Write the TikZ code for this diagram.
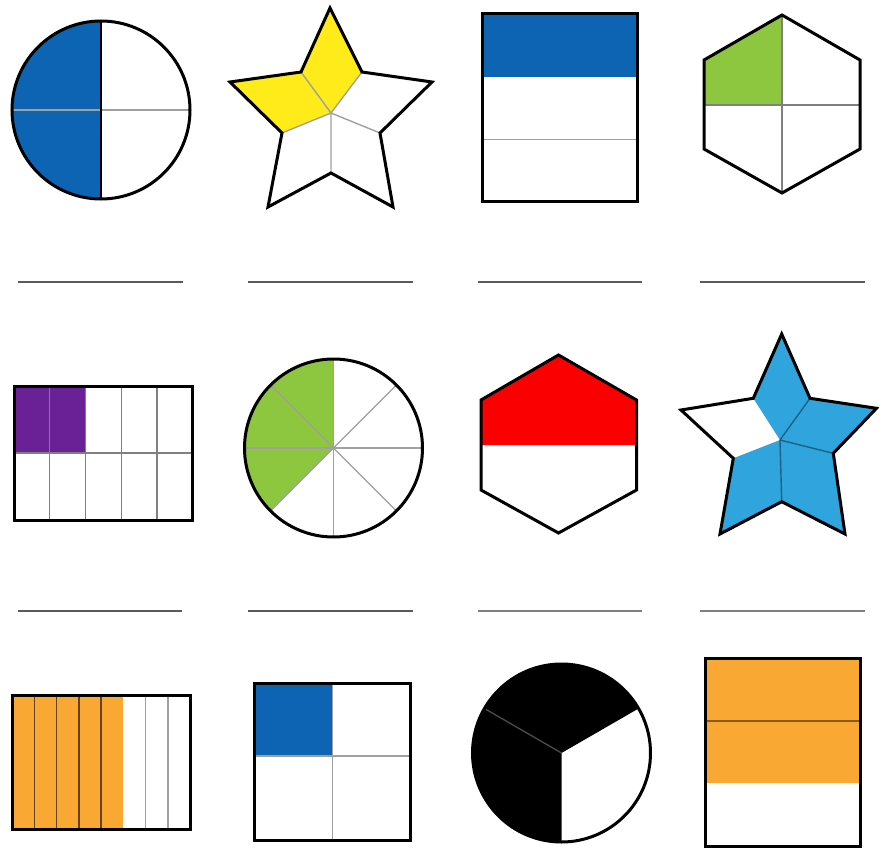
\documentclass[tikz,border=0pt]{standalone}
\begin{document}
\begin{tikzpicture}[x=1pt,y=-1pt,line join=miter]
\definecolor{cblue}{RGB}{12,100,178}
\definecolor{cyellow}{RGB}{255,235,25}
\definecolor{cgreen}{RGB}{141,198,63}
\definecolor{cpurple}{RGB}{107,33,150}
\definecolor{cred}{RGB}{250,0,0}
\definecolor{csky}{RGB}{47,164,221}
\definecolor{corange}{RGB}{249,168,51}
\definecolor{cdiv}{RGB}{160,160,160}
\definecolor{cblank}{RGB}{90,90,90}
\tikzset{
  outline/.style={draw=black,line width=3pt},
  divider/.style={draw=cdiv,line width=1.4pt},
  darkdiv/.style={line width=1.4pt},
  blank/.style={draw=cblank,line width=2.6pt}
}
\useasboundingbox (0,0) rectangle (879,851);
\fill[white] (0,0) rectangle (879,851);

% ===== Row 1 =====
% circle 1/2
\coordinate (c1) at (101,110);
\fill[cblue] (c1) -- ++(0,-89) arc[start angle=-90,end angle=-270,radius=89] -- cycle;
\draw[divider] (c1) ++(-89,0) -- ++(178,0);
\draw[outline] (c1) circle[radius=89];
\draw[black,line width=1.2pt] (c1) ++(0,-89) -- ++(0,178);

% star 2/5
\coordinate (sC) at (331,113);
\coordinate (sT) at (330,8);
\coordinate (sUL) at (301,72);
\coordinate (sUR) at (362,72);
\coordinate (sLT) at (230,82);
\coordinate (sRT) at (432,82);
\coordinate (sLL) at (282,133);
\coordinate (sLR) at (380,133);
\coordinate (sBL) at (268,207);
\coordinate (sBR) at (393,207);
\coordinate (sBI) at (331,173);
\fill[cyellow] (sT) -- (sUR) -- (sC) -- (sLL) -- (sLT) -- (sUL) -- cycle;
\draw[divider] (sC) -- (sUL) (sC) -- (sUR) (sC) -- (sLR) (sC) -- (sBI) (sC) -- (sLL);
\draw[outline] (sT) -- (sUR) -- (sRT) -- (sLR) -- (sBR) -- (sBI) -- (sBL) -- (sLL) -- (sLT) -- (sUL) -- cycle;

% rectangle 1/3
\fill[cblue] (482,14) rectangle (637,76.6);
\draw[divider] (482,139.2) -- (637,139.2);
\draw[outline] (482,14) rectangle (637,201.7);

% hexagon 1/4
\fill[cgreen] (704,105) -- (704,60) -- (782,15) -- (782,105) -- cycle;
\draw[divider,draw=gray] (782,15) -- (782,193) (704,105) -- (860,105);
\draw[outline] (782,15) -- (860,60) -- (860,149) -- (782,193) -- (704,149) -- (704,60) -- cycle;

% blanks row 1
\draw[blank] (18,282) -- (183,282);
\draw[blank] (248,282) -- (413,282);
\draw[blank] (478,282) -- (642,282);
\draw[blank] (700,282) -- (865,282);

% ===== Row 2 =====
% rect 2/10
\fill[cpurple] (14,386) rectangle (85.5,453);
\foreach \xx in {49.7,85.5,121.2,157} {\draw[divider,draw=gray] (\xx,386) -- (\xx,520);}
\draw[divider,draw=gray] (14,453) -- (192.7,453);
\draw[outline] (14,386) rectangle (192.7,520);

% circle 3/8
\coordinate (c2) at (333.5,448);
\fill[cgreen] (c2) -- ++(0,-89) arc[start angle=-90,end angle=-225,radius=89] -- cycle;
\foreach \a in {0,45,90,135} {\draw[divider] (c2) ++(\a:89) -- ++(\a+180:178);}
\draw[outline] (c2) circle[radius=89];

% hexagon 1/2 red
\fill[cred] (481,445) -- (481,400) -- (558.5,355) -- (636.5,400) -- (636.5,445) -- cycle;
\draw[outline] (558.5,355) -- (636.5,400) -- (636.5,490) -- (558.5,533) -- (481,490) -- (481,400) -- cycle;

% star 4/5 blue
\coordinate (tC) at (780,440);
\coordinate (tT) at (781.7,334);
\coordinate (tUL) at (753.3,398.3);
\coordinate (tLT) at (681,410);
\coordinate (tLL) at (733.3,458.3);
\coordinate (tBL) at (720,534);
\coordinate (tBI) at (781.7,501.7);
\coordinate (tBR) at (845,534);
\coordinate (tLR) at (833.3,453.3);
\coordinate (tRT) at (876.5,408.3);
\coordinate (tUR) at (810,398.3);
\fill[csky] (tT) -- (tUR) -- (tRT) -- (tLR) -- (tBR) -- (tBI) -- (tBL) -- (tLL) -- (tC) -- (tUL) -- cycle;
\draw[darkdiv,draw=csky!60!black] (tC) -- (tUR) (tC) -- (tLR) (tC) -- (tBI);
\draw[outline] (tT) -- (tUR) -- (tRT) -- (tLR) -- (tBR) -- (tBI) -- (tBL) -- (tLL) -- (tLT) -- (tUL) -- cycle;

% blanks row 2
\draw[blank] (18,611) -- (182,611);
\draw[blank] (248,611) -- (413,611);
\draw[blank,draw=gray] (478,611) -- (642,611);
\draw[blank,draw=gray] (700,611) -- (865,611);

% ===== Row 3 =====
% rect 5/8
\fill[corange] (12.3,695) rectangle (123.4,829.3);
\foreach \xx in {34.5,56.7,78.9,101.1} {\draw[darkdiv,draw=corange!40!black] (\xx,695) -- (\xx,829.3);}
\foreach \xx in {145.6,167.8} {\draw[divider] (\xx,695) -- (\xx,829.3);}
\draw[outline] (12.3,695) rectangle (190,829.3);

% square 1/4
\fill[cblue] (254,683.3) rectangle (332.3,756);
\draw[divider] (332.3,683.3) -- (332.3,840) (254,756) -- (410.7,756);
\draw[outline] (254,683.3) rectangle (410.7,840);

% circle 2/3 black
\coordinate (c3) at (561.5,753);
\fill[black] (c3) -- ++(-30:89) arc[start angle=-30,end angle=-270,radius=89] -- cycle;
\draw[line width=1.3pt,draw=black!70] (c3) -- ++(-150:89);
\draw[outline] (c3) circle[radius=89];

% rect 2/3 orange
\fill[corange] (705,658.3) rectangle (860,783.4);
\draw[darkdiv,draw=corange!55!black] (705,720.9) -- (860,720.9);
\draw[outline] (705,658.3) rectangle (860,846);
\end{tikzpicture}
\end{document}
